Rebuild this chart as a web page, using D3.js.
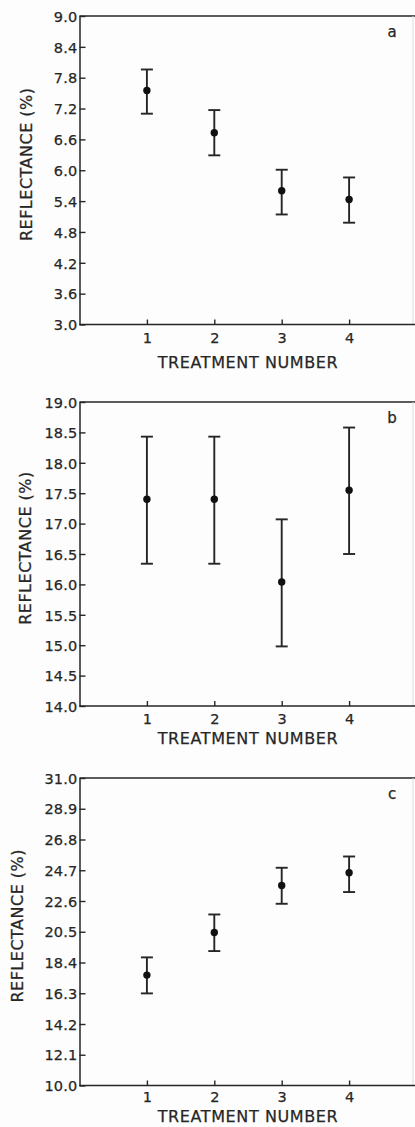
<!DOCTYPE html>
<html>
<head>
<meta charset="utf-8">
<script src="https://cdn.jsdelivr.net/npm/d3@7"></script>
<style>
  body { margin: 0; background: #fdfdfd; }
  text { font-family: "DejaVu Sans", sans-serif; fill: #262626; stroke: #262626; stroke-width: 0.25; }
</style>
</head>
<body>
<div id="chart"></div>
<script>
var W = 415, H = 1127;

// treatment numbers on the x axis
var treatments = [1, 2, 3, 4];

// panel a
var meanA = [7.55, 6.73, 5.60, 5.43],
    highA = [7.96, 7.17, 6.01, 5.86],
    lowA  = [7.10, 6.29, 5.14, 4.98],
    ticksA = ["3.0", "3.6", "4.2", "4.8", "5.4", "6.0", "6.6", "7.2", "7.8", "8.4", "9.0"];

// panel b
var meanB = [17.40, 17.40, 16.04, 17.55],
    highB = [18.43, 18.43, 17.07, 18.58],
    lowB  = [16.34, 16.34, 14.98, 16.50],
    ticksB = ["14.0", "14.5", "15.0", "15.5", "16.0", "16.5", "17.0", "17.5", "18.0", "18.5", "19.0"];

// panel c
var meanC = [17.54, 20.45, 23.66, 24.53],
    highC = [18.75, 21.68, 24.87, 25.64],
    lowC  = [16.29, 19.18, 22.41, 23.21],
    ticksC = ["10.0", "12.1", "14.2", "16.3", "18.4", "20.5", "22.6", "24.7", "26.8", "28.9", "31.0"];

var panels = [
  { id: "a", mean: meanA, high: highA, low: lowA, ticks: ticksA, top: 16,  bottom: 324.5, titleX: 26, tickLabY: 338,  titleY: 362 },
  { id: "b", mean: meanB, high: highB, low: lowB, ticks: ticksB, top: 402, bottom: 706,   titleX: 25, tickLabY: 718.5, titleY: 738 },
  { id: "c", mean: meanC, high: highC, low: lowC, ticks: ticksC, top: 778, bottom: 1085.5, titleX: 17, tickLabY: 1097, titleY: 1116 }
];

var left = 79.5, right = 416.5, ink = "#262626";

var svg = d3.select("#chart").append("svg")
    .attr("width", W)
    .attr("height", H);

var x = d3.scaleLinear().domain([0, 5]).range([left, right]);

panels.forEach(function(p) {
  var tickVals = p.ticks.map(Number);
  var y = d3.scaleLinear()
      .domain([tickVals[0], tickVals[tickVals.length - 1]])
      .range([p.bottom, p.top]);

  var g = svg.append("g").attr("class", "panel-" + p.id);

  // frame: top line and faint right edge
  g.append("line")
    .attr("x1", left).attr("x2", W).attr("y1", p.top).attr("y2", p.top)
    .attr("stroke", ink).attr("stroke-width", 1.5);
  g.append("line")
    .attr("x1", W - 2).attr("x2", W - 2).attr("y1", p.top).attr("y2", p.bottom)
    .attr("stroke", "#ddd").attr("stroke-width", 1);

  // y axis, ticks pointing inward
  var yAxis = g.append("g")
    .attr("transform", "translate(" + left + ",0)")
    .call(d3.axisLeft(y)
      .tickValues(tickVals)
      .tickFormat(function(d, i) { return p.ticks[i]; })
      .tickSizeInner(-6)
      .tickSizeOuter(0)
      .tickPadding(2));
  yAxis.select(".domain").attr("stroke", ink).attr("stroke-width", 1.5);
  yAxis.selectAll(".tick line").attr("stroke", ink).attr("stroke-width", 1.4);
  yAxis.selectAll(".tick text")
    .attr("font-size", 14.5)
    .attr("letter-spacing", 0.2)
    .attr("fill", ink)
    .attr("dy", "0.36em");

  // x axis, ticks pointing inward
  var xAxis = g.append("g")
    .attr("transform", "translate(0," + p.bottom + ")")
    .call(d3.axisBottom(x)
      .tickValues(treatments)
      .tickFormat(d3.format("d"))
      .tickSizeInner(-5)
      .tickSizeOuter(0));
  xAxis.select(".domain").attr("d", "M" + left + ",0H" + W).attr("stroke", ink).attr("stroke-width", 1.5);
  xAxis.selectAll(".tick line").attr("stroke", ink).attr("stroke-width", 1.4);
  xAxis.selectAll(".tick text")
    .attr("font-size", 14.5)
    .attr("fill", ink)
    .attr("y", p.tickLabY - p.bottom)
    .attr("dy", "0.36em");

  // axis titles
  g.append("text")
    .attr("x", (x(2) + x(3)) / 2)
    .attr("y", p.titleY)
    .attr("dy", "0.36em")
    .attr("text-anchor", "middle")
    .attr("font-size", 16)
    .attr("letter-spacing", 0.6)
    .text("TREATMENT NUMBER");

  g.append("text")
    .attr("transform", "translate(" + p.titleX + "," + ((p.top + p.bottom) / 2 - 6) + ") rotate(-90)")
    .attr("dy", "0.36em")
    .attr("text-anchor", "middle")
    .attr("font-size", 16)
    .attr("letter-spacing", 0.5)
    .text("REFLECTANCE (%)");

  // panel letter
  g.append("text")
    .attr("x", 392)
    .attr("y", p.top + 16)
    .attr("dy", "0.36em")
    .attr("text-anchor", "middle")
    .attr("font-size", 15)
    .text(p.id);

  // error bars
  var bars = g.selectAll(".bar")
    .data(treatments)
    .enter().append("g")
      .attr("class", "bar");

  bars.append("line")
    .attr("x1", function(d) { return x(d); })
    .attr("x2", function(d) { return x(d); })
    .attr("y1", function(d, i) { return y(p.low[i]); })
    .attr("y2", function(d, i) { return y(p.high[i]); })
    .attr("stroke", ink).attr("stroke-width", 1.9);

  [p.low, p.high].forEach(function(arr) {
    bars.append("line")
      .attr("x1", function(d) { return x(d) - 6; })
      .attr("x2", function(d) { return x(d) + 6; })
      .attr("y1", function(d, i) { return y(arr[i]); })
      .attr("y2", function(d, i) { return y(arr[i]); })
      .attr("stroke", ink).attr("stroke-width", 1.9);
  });

  bars.append("circle")
    .attr("cx", function(d) { return x(d); })
    .attr("cy", function(d, i) { return y(p.mean[i]); })
    .attr("r", 3.7)
    .attr("fill", "#111");
});
</script>
</body>
</html>
